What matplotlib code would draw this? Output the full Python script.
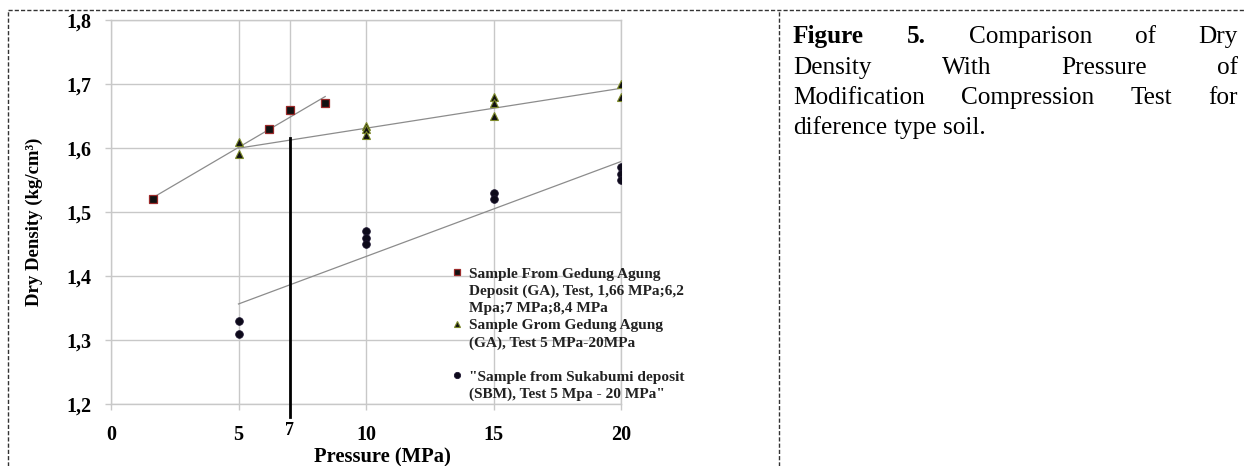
import numpy as np
import matplotlib
matplotlib.use("Agg")
import matplotlib.pyplot as plt
from matplotlib.lines import Line2D

# ---------------- data ----------------
ga1_x = [1.66, 6.2, 7.0, 8.4]
ga1_y = [1.52, 1.63, 1.66, 1.67]

ga2_x = [5, 5, 10, 10, 10, 15, 15, 15, 20, 20]
ga2_y = [1.61, 1.59, 1.635, 1.63, 1.62, 1.68, 1.67, 1.65, 1.70, 1.68]

sbm_x = [5, 5, 10, 10, 10, 15, 15, 20, 20, 20]
sbm_y = [1.33, 1.31, 1.47, 1.46, 1.45, 1.53, 1.52, 1.57, 1.56, 1.55]

marker_line_x = 7
marker_line_y = [1.18, 1.615]

xticks = [0, 5, 7, 10, 15, 20]
yticks = [1.2, 1.3, 1.4, 1.5, 1.6, 1.7, 1.8]

leg_lines = [
    "Sample From Gedung Agung",
    "Deposit (GA), Test, 1,66 MPa;6,2",
    "Mpa;7 MPa;8,4 MPa",
    "Sample Grom Gedung Agung",
    "(GA), Test 5 MPa-20MPa",
    "",
    "\"Sample from Sukabumi deposit",
    "(SBM), Test 5 Mpa - 20 MPa\"",
]

caption_lines = [
    [("Figure", True), ("5.", True), ("Comparison", False), ("of", False), ("Dry", False)],
    [("Density", False), ("With", False), ("Pressure", False), ("of", False)],
    [("Modification", False), ("Compression", False), ("Test", False), ("for", False)],
    [("diference", False), ("type", False), ("soil.", False)],
]

# ---------------- figure ----------------
W, H = 1245, 466
fig = plt.figure(figsize=(W / 100, H / 100), dpi=100)
serif = "Liberation Serif"

ax_l, ax_r, ax_t, ax_b = 111, 621, 20, 404
ax = fig.add_axes([ax_l / W, 1 - ax_b / H, (ax_r - ax_l) / W, (ax_b - ax_t) / H])
ax.set_xlim(0, 20)
ax.set_ylim(1.2, 1.8)

grid_c = "#c8c8c8"
ax.grid(True, color=grid_c, linewidth=1.0)
ax.set_axisbelow(True)
for s in ax.spines.values():
    s.set_color(grid_c)
    s.set_linewidth(1.0)

ax.set_xticks(xticks)
ax.set_yticks(yticks)
ax.set_yticklabels([f"{v:.1f}".replace(".", ",") for v in yticks])
ax.set_xticklabels([str(v) for v in xticks])
ax.tick_params(axis="both", direction="out", length=4, color=grid_c, width=1.0,
               labelsize=14.5)
ax.tick_params(axis="x", pad=11)
ax.tick_params(axis="y", pad=10)
for lab in ax.get_xticklabels() + ax.get_yticklabels():
    lab.set_fontfamily(serif)
    lab.set_fontweight("bold")
for lab, v in zip(ax.get_xticklabels(), xticks):
    if v == 7:
        lab.set_fontsize(13)
        lab.set_y(0.008)

ax.set_xlabel("Pressure (MPa)", fontfamily=serif, fontweight="bold", fontsize=14.8)
ax.xaxis.set_label_coords((382 - ax_l) / (ax_r - ax_l), (ax_b - 447) / (ax_b - ax_t))
ax.set_ylabel("Dry Density (kg/cm\u00b3)", fontfamily=serif, fontweight="bold", fontsize=13.5)
ax.yaxis.set_label_coords((43 - ax_l) / (ax_r - ax_l), (ax_b - 222) / (ax_b - ax_t))

# trend lines (linear fits)
trend_c = "#8c8c8c"
for xs, ys in [(ga1_x, ga1_y), (ga2_x, ga2_y), (sbm_x, sbm_y)]:
    k, b = np.polyfit(xs, ys, 1)
    xe = np.array([min(xs), max(xs)])
    ax.plot(xe, k * xe + b, color=trend_c, linewidth=0.9, zorder=2)

# vertical marker line at 7 MPa
ax.plot([marker_line_x, marker_line_x], marker_line_y, color="black", linewidth=2.0,
        clip_on=False, zorder=3)

sq_style = dict(marker="s", markersize=5.5, markerfacecolor="#111111",
                markeredgecolor="#9b2a2a", markeredgewidth=0.9, linestyle="none")
tr_style = dict(marker="^", markersize=5.5, markerfacecolor="#111111",
                markeredgecolor="#7d8a2a", markeredgewidth=0.8, linestyle="none")
ci_style = dict(marker="o", markersize=5.5, markerfacecolor="#0d0a1a",
                markeredgecolor="#1d1530", markeredgewidth=0.6, linestyle="none")

ax.plot(ga1_x, ga1_y, zorder=4, **sq_style)
ax.plot(ga2_x, ga2_y, zorder=4, **tr_style)
ax.plot(sbm_x, sbm_y, zorder=4, **ci_style)

# legend (frameless, marker on the first line of each entry)
def key(style):
    st = {k: v for k, v in style.items() if k != "markersize"}
    return Line2D([], [], markersize=4.5, **st)

blank = dict(marker=None, linestyle="none")
handles = [key(sq_style), Line2D([], [], **blank), Line2D([], [], **blank),
           key(tr_style), Line2D([], [], **blank), Line2D([], [], **blank),
           key(ci_style), Line2D([], [], **blank)]
leg = ax.legend(handles, leg_lines, loc="upper left",
                bbox_to_anchor=((451 - ax_l) / (ax_r - ax_l), (ax_b - 267) / (ax_b - ax_t)),
                frameon=False, prop=dict(family=serif, weight="bold", size=11.1),
                handlelength=0.8, handletextpad=0.38, labelspacing=0.215, borderpad=0,
                borderaxespad=0)
for t in leg.get_texts():
    t.set_color("#222222")

# dashed table frame
dash = dict(color="#333333", linewidth=1.0, linestyle=(0, (3, 1.5)))
fig.add_artist(Line2D([8 / W, 1], [1 - 10 / H, 1 - 10 / H], transform=fig.transFigure, **dash))
fig.add_artist(Line2D([8 / W, 8 / W], [0, 1 - 10 / H], transform=fig.transFigure, **dash))
fig.add_artist(Line2D([779 / W, 779 / W], [0, 1 - 10 / H], transform=fig.transFigure, **dash))

# justified caption
cap_size = 18.2
left_px, right_px = 793, 1238
baselines = [43, 74, 104, 134]
renderer = fig.canvas.get_renderer()
space_t = fig.text(0, 0, "a a", fontfamily=serif, fontsize=cap_size)
nospace_t = fig.text(0, 0, "aa", fontfamily=serif, fontsize=cap_size)
space_w = (space_t.get_window_extent(renderer).width
           - nospace_t.get_window_extent(renderer).width)
space_t.remove()
nospace_t.remove()
for i, (words, base) in enumerate(zip(caption_lines, baselines)):
    texts = [fig.text(0, 1 - base / H, w, fontfamily=serif, fontsize=cap_size,
                      fontweight="bold" if b else "normal", va="baseline", ha="left")
             for w, b in words]
    widths = [t.get_window_extent(renderer).width for t in texts]
    last = i == len(caption_lines) - 1
    if last or len(words) == 1:
        gap = space_w
    else:
        gap = (right_px - left_px - sum(widths)) / (len(words) - 1)
    x = left_px
    for t, w in zip(texts, widths):
        t.set_x(x / W)
        x += w + gap

fig.savefig("out.png", dpi=100)
